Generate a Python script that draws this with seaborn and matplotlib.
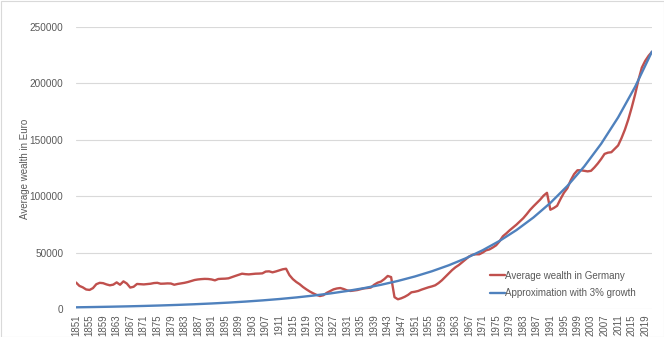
import numpy as np
import pandas as pd
import matplotlib
matplotlib.use("Agg")
import matplotlib.pyplot as plt
import seaborn as sns
from matplotlib.patches import Rectangle

# ---- data ----
years_wealth = list(range(1851, 2022))
wealth = [
    23500, 20500, 19200, 17300, 16900, 18500, 22000, 23200, 22900, 21800,   # 1851-1860
    21000, 21600, 23600, 21500, 24500, 22600, 19000, 19700, 22200, 22000,   # 1861-1870
    21800, 22100, 22400, 23000, 23200, 22400, 22500, 22700, 22600, 21500,   # 1871-1880
    22200, 22700, 23200, 23900, 24800, 25700, 26200, 26500, 26700, 26600,   # 1881-1890
    26200, 25400, 26600, 26800, 26900, 27200, 28300, 29300, 30300, 31300,   # 1891-1900
    30900, 30700, 31000, 31300, 31400, 31600, 33200, 33400, 32500, 33300,   # 1901-1910
    34300, 35200, 35700, 30000, 26500, 24000, 22000, 19500, 17400, 15500,   # 1911-1920
    13900, 12500, 11500, 12200, 14300, 15800, 17400, 18200, 18600, 17700,   # 1921-1930
    16500, 16000, 16400, 16800, 17500, 18300, 18600, 19000, 21500, 23300,   # 1931-1940
    24300, 26500, 29300, 28300, 10500, 8600, 9500, 10800, 12500, 14800,     # 1941-1950
    15300, 16000, 17200, 18200, 19200, 20000, 21000, 23000, 25500, 28500,   # 1951-1960
    31500, 34500, 37000, 39000, 41500, 44000, 46500, 48000, 48500, 48500,   # 1961-1970
    50000, 52000, 52800, 54500, 56500, 60000, 64500, 67000, 69800, 72300,   # 1971-1980
    74800, 77600, 80500, 84000, 87800, 91000, 94000, 97000, 100500, 103000, # 1981-1990
    88000, 89500, 91500, 97500, 103000, 107000, 114000, 119500, 123000, 123000,  # 1991-2000
    122500, 122000, 122500, 125500, 129000, 133000, 137500, 138600, 139000, 142000,  # 2001-2010
    145000, 151500, 159000, 168000, 178500, 190000, 203000, 214000, 220000, 224500,  # 2011-2020
    228000,                                                                   # 2021
]
years_approx = list(range(1851, 2022, 5))
approx = [1500, 1739, 2016, 2337, 2709, 3141, 3641, 4221, 4893, 5672,
          6576, 7623, 8837, 10245, 11877, 13769, 15961, 18503, 21451, 24867,
          28828, 33419, 38742, 44912, 52067, 60360, 69974, 81119, 94038, 109016,
          126380, 146509, 169845, 196897, 228255]

series_names = ["Average wealth in Germany", "Approximation with 3% growth"]
colors = ["#C0504D", "#4F81BD"]
yticks = [0, 50000, 100000, 150000, 200000, 250000]
xtick_years = list(range(1851, 2020, 4))

df = pd.concat([
    pd.DataFrame({"year": years_wealth, "value": wealth, "series": series_names[0]}),
    pd.DataFrame({"year": years_approx, "value": approx, "series": series_names[1]}),
], ignore_index=True)

# ---- figure ----
sns.set_theme(style="white")
plt.rcParams["font.family"] = ["Liberation Sans", "DejaVu Sans"]

W, H = 664, 337
fig = plt.figure(figsize=(W / 100, H / 100), dpi=100)
L, R, T, B = 76, 652, 27, 309
ax = fig.add_axes([L / W, 1 - B / H, (R - L) / W, (B - T) / H])

sns.lineplot(data=df, x="year", y="value", hue="series", hue_order=series_names,
             palette=colors, linewidth=1.7, ax=ax, legend=False, sort=True)

ax.set_xlim(1851, 2021)
ax.set_ylim(0, 250000)
ax.set_yticks(yticks)
ax.set_yticklabels([str(v) for v in yticks], fontsize=7.2, color="#595959")
ax.set_xticks(xtick_years)
ax.set_xticklabels([str(y) for y in xtick_years], rotation=90, fontsize=7,
                   color="#595959")
ax.tick_params(axis="both", length=0, pad=4)
ax.tick_params(axis="y", pad=9)
ax.grid(axis="y", color="#d9d9d9", linewidth=0.8)
ax.grid(axis="x", visible=False)
for s in ax.spines.values():
    s.set_visible(False)
ax.set_xlabel("")
ax.set_ylabel("Average wealth in Euro", fontsize=7, color="#595959")
ax.yaxis.set_label_coords(25 / W, 0.5, transform=fig.transFigure)
ax.yaxis.label.set_verticalalignment("center")

handles = [plt.Line2D([], [], color=c, lw=1.7) for c in colors]
ax.legend(handles, series_names, loc="upper left",
          bbox_to_anchor=(485 / W, 1 - 266 / H), bbox_transform=fig.transFigure,
          frameon=False, fontsize=7, handlelength=1.6, handletextpad=0.0,
          labelspacing=0.75, borderpad=0, labelcolor="#595959")

fig.add_artist(Rectangle((0.5 / W, 0.5 / H), 1 - 1 / W, 1 - 1 / H,
                         transform=fig.transFigure, fill=False,
                         edgecolor="#d9d9d9", linewidth=0.8))

fig.savefig("out.png", dpi=100)
